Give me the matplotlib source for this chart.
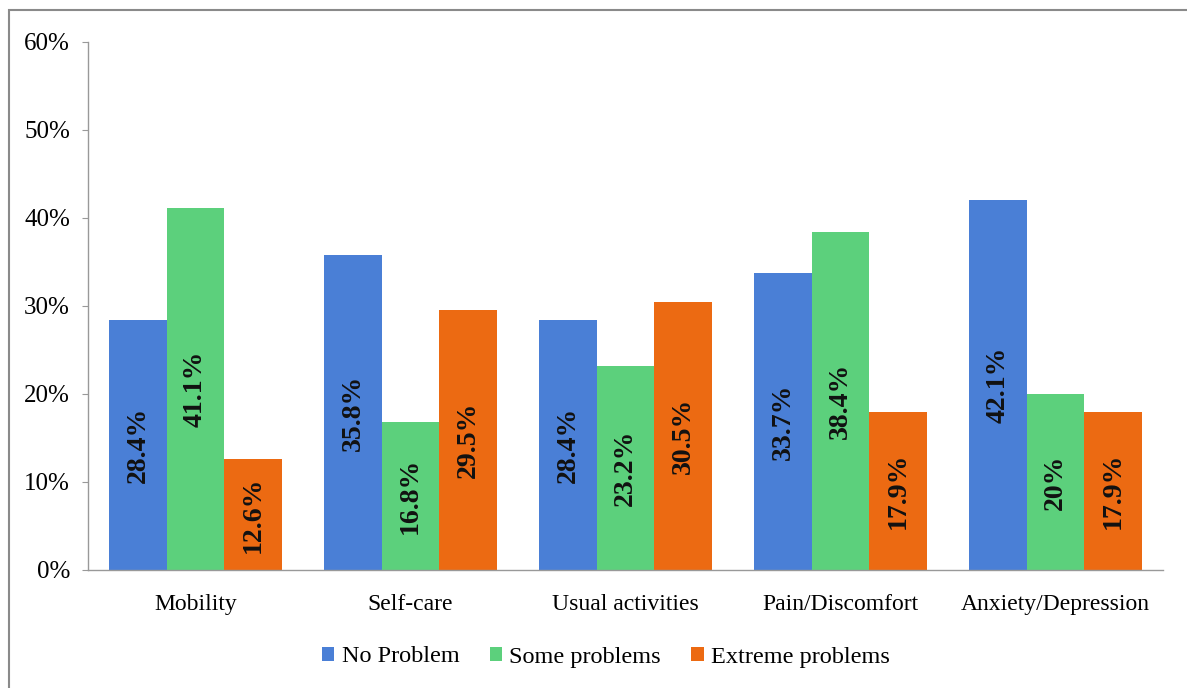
import matplotlib.pyplot as plt
from matplotlib.patches import Rectangle
import numpy as np

categories = ["Mobility", "Self-care", "Usual activities", "Pain/Discomfort", "Anxiety/Depression"]
series_names = ["No Problem", "Some problems", "Extreme problems"]
no_problem = [28.4, 35.8, 28.4, 33.7, 42.1]
some_problems = [41.1, 16.8, 23.2, 38.4, 20.0]
extreme_problems = [12.6, 29.5, 30.5, 17.9, 17.9]
value_labels = [
    ["28.4%", "35.8%", "28.4%", "33.7%", "42.1%"],
    ["41.1%", "16.8%", "23.2%", "38.4%", "20%"],
    ["12.6%", "29.5%", "30.5%", "17.9%", "17.9%"],
]
y_ticks = [0, 10, 20, 30, 40, 50, 60]

colors = ["#4a7fd6", "#5cd07c", "#ec6a12"]

plt.rcParams["font.family"] = ["Liberation Serif", "DejaVu Serif"]

fig = plt.figure(figsize=(11.87, 6.88), dpi=100)
ax = fig.add_axes([88 / 1187, 1 - 570 / 688, (1163 - 88) / 1187, (570 - 42) / 688])

x = np.arange(len(categories))
width = 0.268
series = [no_problem, some_problems, extreme_problems]
for i, (vals, name, col) in enumerate(zip(series, series_names, colors)):
    pos = x + (i - 1) * width
    bars = ax.bar(pos, vals, width, color=col, label=name, zorder=2)
    for b, v, txt in zip(bars, vals, value_labels[i]):
        ax.text(b.get_x() + b.get_width() / 2, v / 2, txt, rotation=90,
                ha="center", va="center", fontsize=20, fontweight="bold",
                color="#111111", zorder=3)

ax.set_xlim(-0.5, 4.5)
ax.set_ylim(0, 60)
ax.set_yticks(y_ticks)
ax.set_yticklabels([f"{t}%" for t in y_ticks])
ax.set_xticks(x)
ax.set_xticklabels(categories)
ax.tick_params(axis="x", length=0, labelsize=17, pad=17)
ax.tick_params(axis="y", length=4, labelsize=18, pad=9, color="#999999")

for side in ["top", "right"]:
    ax.spines[side].set_visible(False)
ax.spines["left"].set_color("#999999")
ax.spines["bottom"].set_color("#999999")
ax.spines["left"].set_linewidth(1.0)
ax.spines["bottom"].set_linewidth(1.0)

leg = fig.legend(loc="center", bbox_to_anchor=(606 / 1187, 1 - 657 / 688), ncol=3,
                 frameon=False, fontsize=17.5, handlelength=0.5, handleheight=0.5,
                 handletextpad=0.3, columnspacing=1.25)

# outer frame of the chart area
fig.patches.append(Rectangle((9 / 1187, -0.01), 1.02, 1 - 10 / 688 + 0.01,
                             transform=fig.transFigure, fill=False,
                             edgecolor="#8a8a8a", linewidth=1.5))

fig.savefig("out.png", dpi=100)
